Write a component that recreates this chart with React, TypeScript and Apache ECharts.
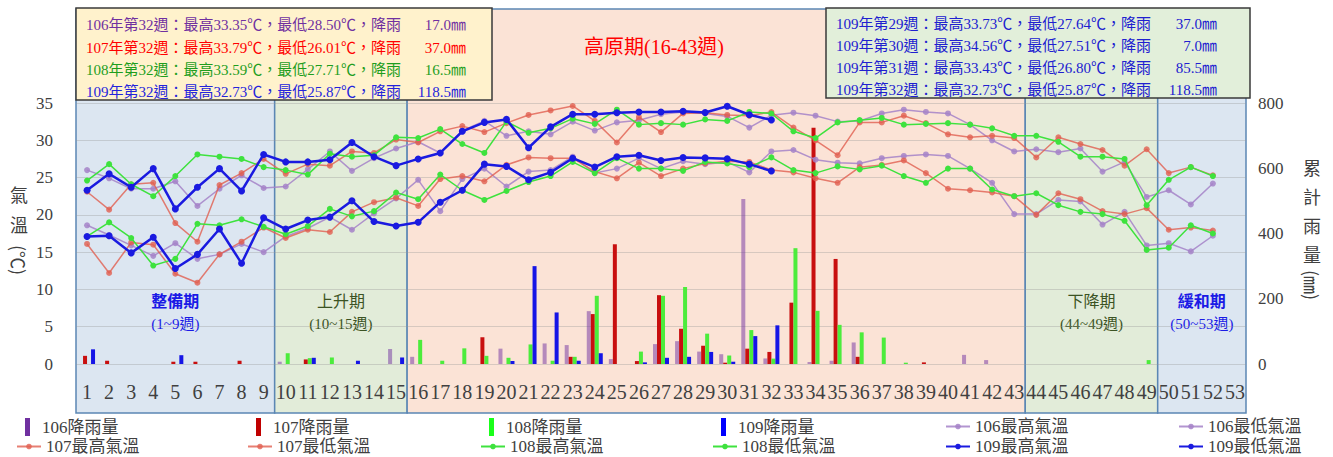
import React, { useEffect, useRef } from "react";
import * as echarts from "echarts";

const FONT = "'Liberation Serif', 'Noto Sans CJK TC', serif";
const CJK = "'Noto Sans CJK TC', 'Liberation Serif', sans-serif";

const weeks = [
  "1","2","3","4","5","6","7","8","9","10","11","12","13","14","15","16","17","18","19","20",
  "21","22","23","24","25","26","27","28","29","30","31","32","33","34","35","36","37","38","39","40",
  "41","42","43","44","45","46","47","48","49","50","51","52","53",
];

const tempTicks = [0, 35, 5];
const rainTicks = [0, 800, 200];

const max106 = [26.0,24.9,23.5,23.5,24.5,21.2,23.5,25.3,23.6,23.8,26.1,28.5,25.9,27.6,28.9,29.8,28.3,31.3,32.6,30.6,31.2,30.8,32.5,31.3,32.4,32.7,33.5,33.8,33.6,33.2,31.7,33.35,33.7,33.3,32.5,32.6,33.6,34.1,33.8,33.6,32.1,30.0,28.5,28.8,28.4,28.9,25.8,27.1,22.4,23.3,21.4,24.2];
const min106 = [18.6,17.3,15.9,14.5,16.2,14.1,14.7,16.1,15.0,17.1,18.2,19.7,18.0,20.2,22.2,24.7,20.5,24.8,26.2,23.8,25.8,26.0,27.8,25.6,26.2,27.6,26.2,27.2,26.8,27.1,25.7,28.5,28.7,27.4,27.0,26.9,27.6,27.9,28.1,27.9,26.2,24.3,20.1,20.1,22.0,21.8,18.7,20.4,15.9,16.2,15.1,17.2];
const max107 = [23.1,20.7,24.1,24.3,18.9,16.4,24.0,25.6,27.5,25.5,26.8,26.6,28.5,28.3,30.1,29.7,31.2,31.9,31.1,32.3,33.4,34.0,34.6,32.6,29.7,33.1,31.1,33.6,33.7,33.4,33.3,33.79,31.7,30.0,28.0,32.4,32.4,33.3,32.3,30.8,30.4,30.6,30.3,27.7,30.4,29.5,28.7,26.6,28.8,25.6,26.4,25.3];
const min107 = [16.1,12.2,16.3,16.0,12.1,10.9,14.7,16.4,18.3,16.9,18.0,17.7,20.4,21.7,22.3,21.2,24.8,25.2,24.5,26.7,27.7,27.6,27.6,25.8,24.9,27.0,25.2,26.2,26.9,27.2,27.1,26.01,25.7,24.9,24.3,26.4,26.7,27.3,25.6,23.5,23.3,23.0,22.5,20.0,22.9,22.1,20.5,20.1,20.9,18.0,18.3,17.9];
const max108 = [24.6,26.8,24.1,22.5,25.2,28.1,27.8,27.5,26.4,26.0,25.4,28.2,27.8,28.0,30.4,30.3,31.5,29.5,28.3,32.5,31.0,31.6,32.9,32.2,34.1,32.1,32.3,32.1,32.8,32.6,33.8,33.59,31.2,30.3,32.4,32.7,33.0,32.1,32.2,32.3,32.1,31.6,30.6,30.6,29.8,27.8,27.8,27.5,21.3,24.7,26.4,25.2];
const min108 = [17.1,19.0,16.9,13.2,14.1,18.8,18.6,19.4,18.4,17.4,18.5,20.8,19.8,20.5,23.0,22.1,25.4,23.3,22.0,23.2,24.4,25.2,27.1,25.6,27.6,26.2,26.2,25.9,27.1,26.9,26.4,27.71,26.0,25.6,26.5,26.1,26.6,25.2,24.3,26.2,26.2,23.4,22.5,22.9,21.3,20.4,20.1,19.2,15.3,15.6,18.6,17.5];
const max109 = [23.3,25.5,23.7,26.2,20.8,23.7,26.2,23.2,28.1,27.1,27.1,27.4,29.7,27.8,26.6,27.5,28.3,31.2,32.4,32.8,29.0,31.8,33.5,33.5,33.7,33.8,33.8,33.9,33.73,34.56,33.43,32.73];
const min109 = [17.1,17.2,14.9,17.0,12.8,14.7,18.1,13.5,19.6,18.1,19.3,19.7,21.9,19.1,18.5,19.0,21.7,23.3,26.8,26.5,24.7,25.7,27.6,26.4,27.8,28.0,27.3,27.7,27.64,27.51,26.80,25.87];

const rain106 = [0,0,0,0,0,0,0,0,0,7,0,0,0,0,46,22,0,0,0,47,0,63,58,162,15,0,61,70,38,30,506,17,0,6,10,66,0,0,0,0,28,12,0,0,0,0,0,0,0,0,0,0,0];
const rain107 = [25,10,0,0,7,7,0,10,0,0,14,0,0,0,0,0,0,0,82,0,0,0,22,153,367,9,211,108,56,4,47,37,188,724,322,22,0,0,5,0,0,0,0,0,0,0,0,0,0,0,0,0,0];
const rain108 = [0,0,0,0,0,0,0,0,0,33,18,20,0,0,0,74,10,48,25,19,60,10,22,209,0,38,209,236,93,26,104,16.5,355,163,120,97,81,4,0,0,0,0,0,0,0,0,0,0,12,0,0,0,0];
const rain109 = [45,0,0,0,27,0,0,0,0,0,19,0,10,0,20,0,0,0,0,9,300,158,10,33,0,5,19,22,37,7,85.5,118.5];

const regionStart = [1, 10, 16, 44, 50];
const regionEnd = [9, 15, 43, 49, 53];
const regionName = ["整備期", "上升期", "", "下降期", "緩和期"];
const regionRange = ["(1~9週)", "(10~15週)", "", "(44~49週)", "(50~53週)"];
const regionFill = ["#dce6f1", "#e2ecd9", "#fbe3d6", "#e2ecd9", "#dce6f1"];
const regionTextColor = ["#1a1ae6", "#3b5323", "#ff0000", "#3b5323", "#1a1ae6"];
const plateauTitle = "高原期(16-43週)";

const boxLeftYears = ["106", "107", "108", "109"];
const boxLeftMax = ["33.35", "33.79", "33.59", "32.73"];
const boxLeftMin = ["28.50", "26.01", "27.71", "25.87"];
const boxLeftRain = ["17.0", "37.0", "16.5", "118.5"];
const boxLeftColors = ["#7030a0", "#ff0000", "#1e9e1e", "#2424dc"];
const boxRightWeeks = ["29", "30", "31", "32"];
const boxRightMax = ["33.73", "34.56", "33.43", "32.73"];
const boxRightMin = ["27.64", "27.51", "26.80", "25.87"];
const boxRightRain = ["37.0", "7.0", "85.5", "118.5"];

const barSeries = [
  { name: "106降雨量", data: rain106, color: "rgba(112,48,160,0.5)", legendColor: "#7030a0" },
  { name: "107降雨量", data: rain107, color: "#c80f0f", legendColor: "#c00000" },
  { name: "108降雨量", data: rain108, color: "#4cec3c", legendColor: "#1aff1a" },
  { name: "109降雨量", data: rain109, color: "#1515e6", legendColor: "#0000ff" },
];

const lineSeries = [
  { name: "106最高氣溫", data: max106, color: "rgba(165,130,200,0.85)", width: 1.5, size: 6 },
  { name: "106最低氣溫", data: min106, color: "rgba(165,130,200,0.85)", width: 1.5, size: 6 },
  { name: "107最高氣溫", data: max107, color: "rgba(225,95,80,0.8)", width: 1.5, size: 6 },
  { name: "107最低氣溫", data: min107, color: "rgba(225,95,80,0.8)", width: 1.5, size: 6 },
  { name: "108最高氣溫", data: max108, color: "#3ee23e", width: 1.5, size: 6 },
  { name: "108最低氣溫", data: min108, color: "#3ee23e", width: 1.5, size: 6 },
  { name: "109最高氣溫", data: max109, color: "#1a1ae0", width: 2.5, size: 7 },
  { name: "109最低氣溫", data: min109, color: "#1a1ae0", width: 2.5, size: 7 },
];

const legendCols = [16, 247, 480, 712, 945, 1178];
const legendRows = [
  ["106降雨量", "107降雨量", "108降雨量", "109降雨量", "106最高氣溫", "106最低氣溫"],
  ["107最高氣溫", "107最低氣溫", "108最高氣溫", "108最低氣溫", "109最高氣溫", "109最低氣溫"],
];

export default function App() {
  const ref = useRef<HTMLDivElement>(null);
  useEffect(() => {
    document.body.style.margin = "0";
    if (!ref.current) return;
    const chart = echarts.init(ref.current, null, { renderer: "svg" });

    const legends: any[] = [];
    legendRows.forEach((row, r) => {
      row.forEach((name, c) => {
        const bar = barSeries.find((b) => b.name === name);
        if (bar) {
          legends.push({
            data: [{ name, icon: "rect", itemStyle: { color: bar.legendColor } }],
            left: legendCols[c] + 9,
            top: 418 + r * 20,
            padding: 0,
            itemWidth: 5,
            itemHeight: 18,
            textStyle: { fontFamily: FONT, fontSize: 17, color: "#404040", padding: [0, 0, 0, 7] },
          });
        } else {
          legends.push({
            data: [name],
            left: legendCols[c],
            top: 418 + r * 20,
            padding: 0,
            itemWidth: 24,
            itemHeight: 7,
            textStyle: { fontFamily: FONT, fontSize: 17, color: "#404040" },
          });
        }
      });
    });

    const graphics: any[] = [];
    graphics.push({
      type: "rect", z: 10,
      shape: { x: 76, y: 8, width: 416, height: 92 },
      style: { fill: "#fff2cc", stroke: "#3a3a3a", lineWidth: 1.5 },
    });
    const leftLineY = [25, 47.5, 70, 92];
    boxLeftYears.forEach((y, i) => {
      graphics.push({
        type: "text", z: 11, x: 86, y: leftLineY[i],
        style: {
          text: `${y}年第32週：最高${boxLeftMax[i]}℃，最低${boxLeftMin[i]}℃，降雨`,
          fontFamily: FONT, fontSize: 15, fill: boxLeftColors[i], verticalAlign: "middle",
        },
      });
      graphics.push({
        type: "text", z: 11, x: 466, y: leftLineY[i],
        style: {
          text: `${boxLeftRain[i]}㎜`, align: "right",
          fontFamily: FONT, fontSize: 15, fill: boxLeftColors[i], verticalAlign: "middle",
        },
      });
    });
    graphics.push({
      type: "rect", z: 10,
      shape: { x: 826, y: 8, width: 424, height: 90 },
      style: { fill: "#e2efda", stroke: "#3a3a3a", lineWidth: 1.5 },
    });
    const rightLineY = [24, 46, 68, 90];
    boxRightWeeks.forEach((w, i) => {
      graphics.push({
        type: "text", z: 11, x: 836, y: rightLineY[i],
        style: {
          text: `109年第${w}週：最高${boxRightMax[i]}℃，最低${boxRightMin[i]}℃，降雨`,
          fontFamily: FONT, fontSize: 15, fill: "#2020d0", verticalAlign: "middle",
        },
      });
      graphics.push({
        type: "text", z: 11, x: 1217, y: rightLineY[i],
        style: {
          text: `${boxRightRain[i]}㎜`, align: "right",
          fontFamily: FONT, fontSize: 15, fill: "#2020d0", verticalAlign: "middle",
        },
      });
    });
    graphics.push({
      type: "text", z: 11, x: 654, y: 47,
      style: { text: plateauTitle, fontFamily: FONT, fontSize: 20, fill: "#ff0000", align: "center", verticalAlign: "middle" },
    });
    graphics.push({
      type: "text", z: 11, x: 19, y: 209,
      style: { text: "氣\n溫", fontFamily: CJK, fontSize: 18, lineHeight: 30, fill: "#404040", align: "center", verticalAlign: "middle" },
    });
    graphics.push({
      type: "text", z: 11, x: 19, y: 260, rotation: -Math.PI / 2,
      style: { text: "(℃)", fontFamily: CJK, fontSize: 18, fill: "#404040", align: "center", verticalAlign: "middle" },
    });
    graphics.push({
      type: "text", z: 11, x: 1312, y: 210,
      style: { text: "累\n計\n雨\n量", fontFamily: CJK, fontSize: 18, lineHeight: 29, fill: "#404040", align: "center", verticalAlign: "middle" },
    });
    graphics.push({
      type: "text", z: 11, x: 1312, y: 285, rotation: -Math.PI / 2,
      style: { text: "(㎜)", fontFamily: CJK, fontSize: 18, fill: "#404040", align: "center", verticalAlign: "middle" },
    });

    const regionData = regionStart.map((s, i) => [s - 1, regionEnd[i] - 1, i]);

    const option: any = {
      animation: false,
      backgroundColor: "#ffffff",
      grid: { left: 76, right: 87, top: 103, bottom: 93, containLabel: false },
      legend: legends,
      graphic: graphics,
      xAxis: {
        type: "category",
        data: weeks,
        boundaryGap: true,
        axisLine: { show: false },
        axisTick: { show: false },
        axisLabel: { interval: 0, margin: 18, fontFamily: FONT, fontSize: 20, color: "#404040" },
        splitLine: { show: false },
      },
      yAxis: [
        {
          type: "value", min: tempTicks[0], max: tempTicks[1], interval: tempTicks[2],
          axisLine: { show: false }, axisTick: { show: false },
          axisLabel: { margin: 23, fontFamily: FONT, fontSize: 17, color: "#404040" },
          splitLine: { show: true, lineStyle: { color: "rgba(150,150,150,0.35)", width: 1 } },
        },
        {
          type: "value", min: rainTicks[0], max: rainTicks[1], interval: rainTicks[2],
          axisLine: { show: false }, axisTick: { show: false },
          axisLabel: { margin: 12, fontFamily: FONT, fontSize: 17, color: "#404040" },
          splitLine: { show: false },
        },
      ],
      series: [
        {
          type: "custom",
          name: "regions",
          z: -5,
          silent: true,
          clip: false,
          dimensions: ["s", "e", "k"],
          encode: { x: 0, y: 1 },
          data: regionData,
          renderItem: (params: any, api: any) => {
            const s = api.value(0);
            const e = api.value(1);
            const k = api.value(2);
            const bw = api.size([1, 0])[0];
            const x0 = api.coord([s, 0])[0] - bw / 2;
            const x1 = api.coord([e, 0])[0] + bw / 2;
            const cx = (x0 + x1) / 2;
            const children: any[] = [
              {
                type: "rect",
                shape: { x: x0, y: 9, width: x1 - x0, height: 404 },
                style: { fill: regionFill[k], stroke: "#5b87b4", lineWidth: 1.5 },
              },
            ];
            if (regionName[k]) {
              children.push({
                type: "text", x: cx, y: 300,
                style: {
                  text: regionName[k], fontFamily: CJK, fontSize: 16,
                  fontWeight: k === 0 || k === 4 ? "bold" : "normal",
                  fill: regionTextColor[k], align: "center", verticalAlign: "middle",
                },
              });
              children.push({
                type: "text", x: cx, y: 324,
                style: {
                  text: regionRange[k], fontFamily: FONT, fontSize: 15,
                  fill: regionTextColor[k], align: "center", verticalAlign: "middle",
                },
              });
            }
            return { type: "group", children };
          },
        },
        ...barSeries.map((b) => ({
          type: "bar",
          name: b.name,
          yAxisIndex: 1,
          data: b.data,
          barWidth: 4,
          barGap: "0%",
          itemStyle: { color: b.color },
          z: 2,
        })),
        ...lineSeries.map((l, i) => ({
          type: "line",
          name: l.name,
          yAxisIndex: 0,
          data: l.data,
          symbol: "circle",
          symbolSize: l.size,
          showSymbol: true,
          lineStyle: { color: l.color, width: l.width },
          itemStyle: { color: l.color },
          z: 3 + i,
        })),
      ],
    };

    chart.setOption(option);
    return () => chart.dispose();
  }, []);

  return (
    <div
      ref={ref}
      style={{ position: "absolute", left: 0, top: 0, width: 1333, height: 457 }}
    />
  );
}
